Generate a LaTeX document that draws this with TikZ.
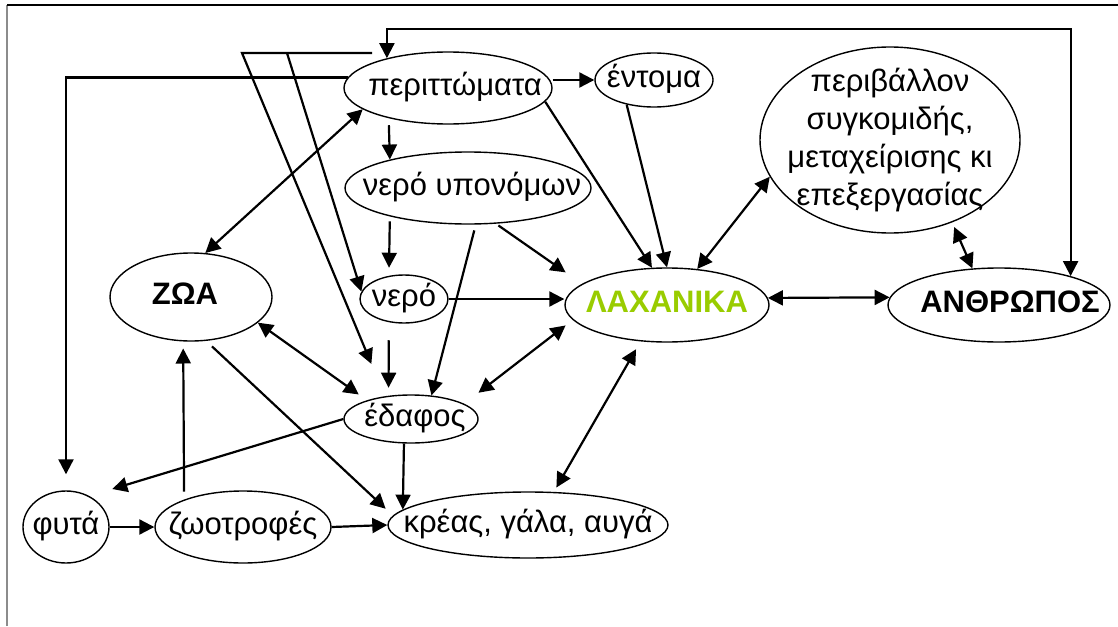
\documentclass[tikz,border=0pt]{standalone}
\usepackage{fontspec}
\setmainfont{Liberation Sans}
\usepackage{xcolor}
\definecolor{vegcolor}{RGB}{153, 204, 0}
\definecolor{framecolor}{RGB}{140, 140, 140}
\usepackage{tikz}
\usetikzlibrary{arrows.meta, shapes.geometric, calc}

\newcommand{\nw}[1]{\makebox[0pt]{#1}}

\begin{document}
\begin{tikzpicture}[
    x=1pt, y=-1pt,
    font=\fontsize{31}{38}\selectfont,
    bub/.style={ellipse, draw, line width=1.4pt, inner sep=0pt,
      text height=23pt, text depth=8pt},
    arr/.style={-{Triangle[length=15pt,width=15pt]}, line width=2.2pt},
    darr/.style={{Triangle[length=15pt,width=15pt]}-{Triangle[length=15pt,width=15pt]},
      line width=2.2pt}
  ]
  \useasboundingbox (0,0) rectangle (1118,626);
  \draw[framecolor, line width=1.5pt] (7,626) -- (7,5);
  \draw[line width=1.2pt] (7,5) -- (1118,5);

  % the cycle
  \node[bub, minimum width=208pt, minimum height=72pt] (perit) at (448,88) {\nw{\hspace*{14pt}περιττώματα}};
  \node[bub, minimum width=118pt, minimum height=54pt] (entoma) at (654,80) {\nw{έντομα}};
  \node[bub, minimum width=246pt, minimum height=72pt] (nerou) at (468,188) {\nw{\hspace*{8pt}νερό υπονόμων}};
  \node[bub, minimum width=88pt, minimum height=48pt] (nero) at (404,299) {\nw{νερό}};
  \node[bub, minimum width=162pt, minimum height=88pt] (zoa) at (191,297) {\nw{\bfseries ΖΩΑ\hspace*{12pt}}};
  \node[bub, minimum width=204pt, minimum height=74pt, text=vegcolor] (lach) at (667,305) {\nw{\bfseries ΛΑΧΑΝΙΚΑ}};
  \node[bub, minimum width=222pt, minimum height=74pt] (anthr) at (999,305) {\nw{\bfseries\hspace*{22pt}ΑΝΘΡΩΠΟΣ}};
  \node[bub, minimum width=260pt, minimum height=186pt] (periv) at (890,140)
    {\nw{\begin{tabular}{@{}c@{}}περιβάλλον\\συγκομιδής,\\μεταχείρισης κι\\επεξεργασίας\end{tabular}}};
  \node[bub, minimum width=134pt, minimum height=48pt] (edafos) at (411,419) {\nw{\hspace*{8pt}έδαφος}};
  \node[bub, minimum width=86pt, minimum height=72pt] (fyta) at (66,527) {\nw{φυτά}};
  \node[bub, minimum width=176pt, minimum height=72pt] (zootr) at (243,527) {\nw{ζωοτροφές}};
  \node[bub, minimum width=280pt, minimum height=66pt] (kreas) at (528,525) {\nw{κρέας, γάλα, αυγά}};

  % routed lines
  \coordinate (roof) at (0,29);
  \coordinate (wasteout) at (372,53);
  \coordinate (forkA) at (242,53);
  \coordinate (forkB) at (287,53);
  \draw[darr] (perit.154) -- (perit.154 |- roof) -| (anthr.22);
  \draw[arr, shorten >=16pt] (perit.174) -| (fyta.north);
  \draw[arr, shorten >=35pt] (wasteout) -- (forkA) -- (edafos.139);
  \draw[arr] (forkB) -- (nero.170);

  \path[arr]
    (perit.east |- entoma.west) edge (entoma.west)
    (perit.352) edge (lach.112)
    (entoma.222) edge (lach.north)
    (perit.207) edge[shorten <=7pt] (nerou.160)
    (nerou.200) edge[shorten <=5pt, shorten >=8pt] (nero.123)
    (nerou.308) edge[shorten <=3pt, shorten >=20pt] (lach.166)
    (nero.east) edge (nero.east -| lach.west)
    (nero.237) edge[shorten <=18pt, shorten >=8pt] (edafos.134)
    (nerou.282) edge[shorten <=6pt] (edafos.49)
    (edafos.west) edge[shorten >=24pt] (fyta.53)
    (edafos.254) edge (kreas.173)
    (zoa.289) edge[shorten <=8pt, shorten >=10pt] (kreas.176)
    (zootr.155) edge[shorten <=8pt, shorten >=7pt] (zoa.260)
    (fyta.east) edge (zootr.west)
    (zootr.east) edge (kreas.west)
    ;
  \path[darr]
    (zoa.72) edge (perit.194)
    (zoa.339) edge[shorten >=10pt] (edafos.157)
    (lach.189) edge[shorten <=9pt, shorten >=18pt] (edafos.16)
    (lach.234) edge[shorten <=9pt, shorten >=5pt] (kreas.52)
    (lach.50) edge (periv.197)
    (lach.4) edge (anthr.176)
    (periv.307) edge[shorten <=5pt] (anthr.126)
    ;
\end{tikzpicture}
\end{document}
